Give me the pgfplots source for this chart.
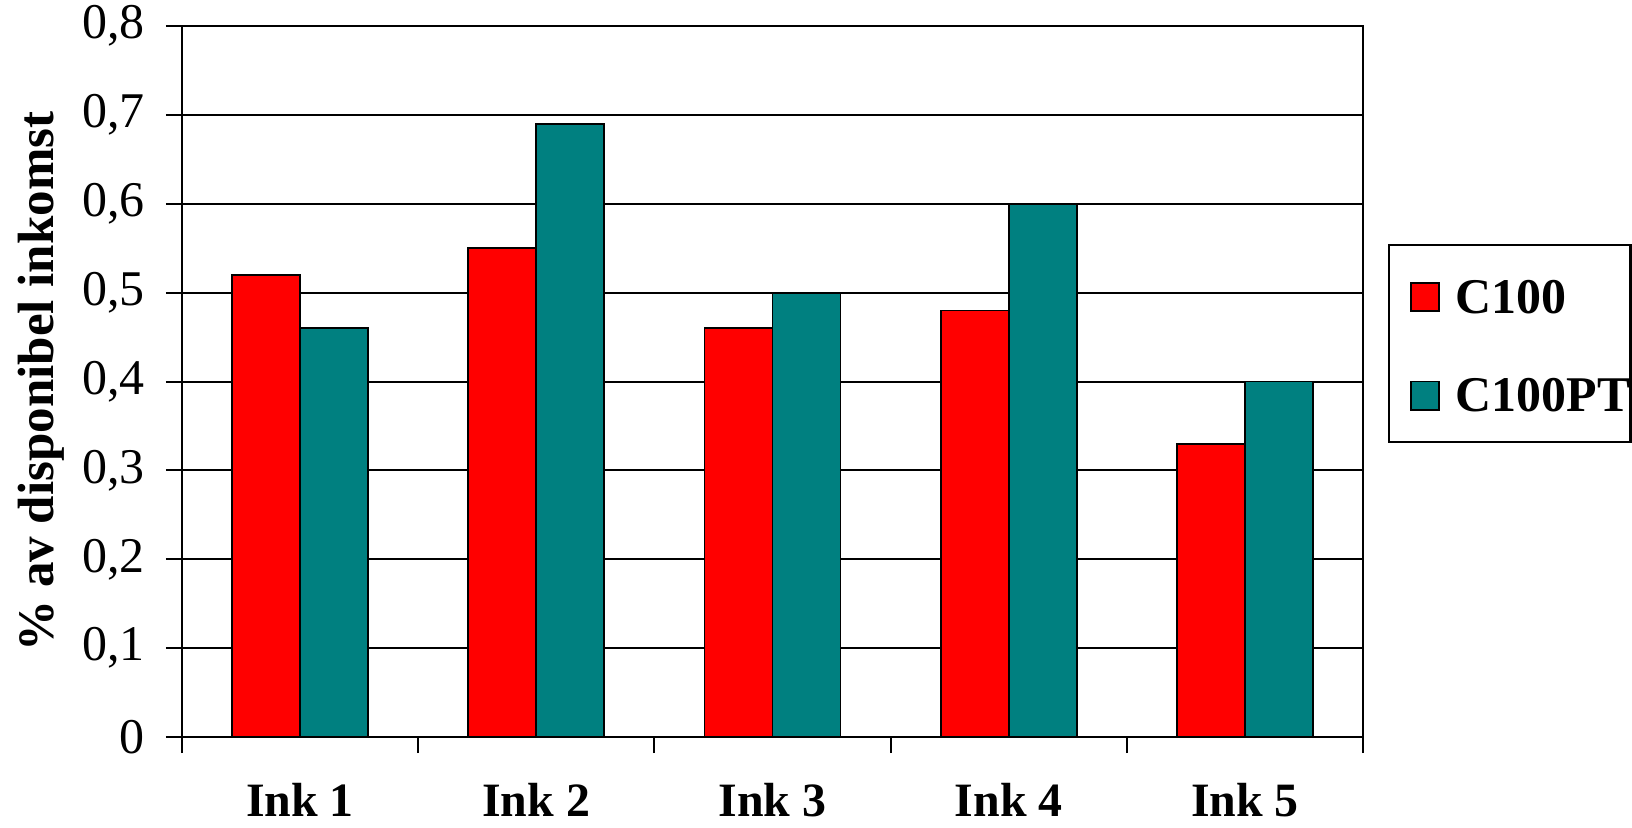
\documentclass[border=0pt]{standalone}
\usepackage{pgfplots}
\pgfplotsset{compat=1.18}
\usepackage{fontspec}
\setmainfont{Liberation Serif}
\definecolor{barred}{RGB}{255,0,0}
\definecolor{barteal}{RGB}{0,128,128}
\begin{document}
\begin{tikzpicture}[font=\fontsize{24}{28}\selectfont]
\begin{axis}[
    name=ax,
    scale only axis,
    width=567.4pt, height=341.6pt,
    ybar=0pt, bar width=0.288,
    xmin=-0.5, xmax=4.5,
    ymin=0, ymax=0.8,
    xtick={0,1,2,3,4},
    xticklabels={Ink 1,Ink 2,Ink 3,Ink 4,Ink 5},
    minor xtick={-0.5,0.5,1.5,2.5,3.5,4.5},
    ytick={0,0.1,0.2,0.3,0.4,0.5,0.6,0.7,0.8},
    tick align=outside, xtick pos=bottom, ytick pos=left,
    major tick length=7.7pt, minor tick length=7.7pt,
    major x tick style={draw=none},
    tick style={black, line width=1pt},
    axis line style={line width=1pt},
    ymajorgrids, grid style={black, line width=1pt},
    /pgf/number format/assume math mode=true,
    yticklabel style={font=\fontsize{24}{28}\selectfont, inner sep=0pt, anchor=east, xshift=-10pt,
        /pgf/number format/.cd, fixed, precision=1, use comma},
    xticklabel style={font=\fontsize{23}{27}\selectfont\bfseries, inner sep=0pt, anchor=north, yshift=-14.5pt},
    ylabel={\% av disponibel inkomst},
    ylabel style={font=\fontsize{24.5}{28}\selectfont\bfseries, inner sep=0pt, inner ysep=8.6pt,
        at={(axis description cs:-0.154,0.5)}, anchor=north},
    legend style={at={(axis description cs:1.0211,0.553)}, anchor=west,
        draw=black, line width=1pt, font=\fontsize{24}{28}\selectfont\bfseries,
        nodes={inner sep=0pt},
        inner xsep=0pt, inner ysep=0pt, row sep=0pt,
        /tikz/every odd column/.append style={column sep=7.7pt}},
    legend cell align=left,
]
\addplot[fill=barred, draw=black, line width=0.8pt,
    legend image code/.code={\path (-10pt,-21.5pt) (0pt,25pt);
        \draw[fill=barred, draw=black, line width=0.8pt] (0pt,-6.25pt) rectangle (13.5pt,7.25pt);}]
    coordinates {(0,0.52) (1,0.55) (2,0.46) (3,0.48) (4,0.33)};
\addlegendentry{C100}
\addplot[fill=barteal, draw=black, line width=0.8pt,
    legend image code/.code={\path (-10pt,-21.5pt) (0pt,25pt);
        \draw[fill=barteal, draw=black, line width=0.8pt] (0pt,-6.25pt) rectangle (13.5pt,7.25pt);}]
    coordinates {(0,0.46) (1,0.69) (2,0.50) (3,0.60) (4,0.40)};
\addlegendentry{C100PT}
\end{axis}
% fix the page to the reference's margins round the plot area
\pgfresetboundingbox
\path ([xshift=-87.4pt,yshift=-43.2pt]ax.south west) rectangle ([xshift=129.2pt,yshift=12.5pt]ax.north east);
\end{tikzpicture}
\end{document}
